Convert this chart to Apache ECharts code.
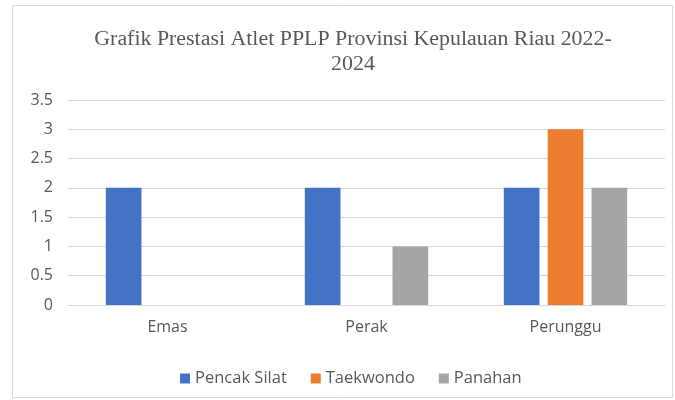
<!DOCTYPE html>
<html>
<head>
<meta charset="utf-8">
<script src="https://cdn.jsdelivr.net/npm/echarts@6/dist/echarts.min.js"></script>
<style>
  html, body { margin: 0; padding: 0; background: #fff; }
  #chart { width: 675px; height: 400px; }
</style>
</head>
<body>
<div id="chart"></div>
<script>
// data
const categories = ['Emas', 'Perak', 'Perunggu'];
const pencakSilat = [2, 2, 2];
const taekwondo = [0, 0, 3];
const panahan = [0, 1, 2];
const seriesNames = ['Pencak Silat', 'Taekwondo', 'Panahan'];
const colors = ['#4472C4', '#ED7D31', '#A5A5A5'];

const chart = echarts.init(document.getElementById('chart'));

const labelFont = { fontFamily: 'Open Sans, Noto Sans, sans-serif', fontSize: 16, color: '#595959' };

chart.setOption({
  animation: false,
  color: colors,
  title: {
    text: 'Grafik Prestasi Atlet PPLP Provinsi Kepulauan Riau 2022-\n2024',
    left: 348,
    textAlign: 'center',
    top: 22,
    textStyle: {
      fontFamily: 'Liberation Serif, serif',
      fontSize: 21.9,
      fontWeight: 'normal',
      color: '#595959',
      lineHeight: 25
    }
  },
  graphic: [{
    type: 'rect',
    shape: { x: 12.5, y: 5.5, width: 660, height: 392 },
    style: { fill: 'none', stroke: '#d9d9d9', lineWidth: 1 },
    silent: true
  }],
  legend: {
    top: 365,
    left: 175,
    itemWidth: 10,
    itemHeight: 10,
    itemGap: 24,
    icon: 'rect',
    textStyle: Object.assign({}, labelFont, { fontSize: 16.5 }),
    data: seriesNames
  },
  grid: { left: 68, right: 10, top: 100, bottom: 95 },
  xAxis: {
    type: 'category',
    data: categories,
    axisLine: { show: true, lineStyle: { color: '#d9d9d9' } },
    axisTick: { show: false },
    axisLabel: Object.assign({ margin: 14 }, labelFont)
  },
  yAxis: {
    type: 'value',
    min: 0,
    max: 3.5,
    interval: 0.5,
    axisLine: { show: false },
    axisTick: { show: false },
    splitLine: { lineStyle: { color: '#d9d9d9' } },
    axisLabel: Object.assign({ margin: 15 }, labelFont)
  },
  series: [
    { name: seriesNames[0], type: 'bar', data: pencakSilat, barGap: '23%', barCategoryGap: '38%' },
    { name: seriesNames[1], type: 'bar', data: taekwondo },
    { name: seriesNames[2], type: 'bar', data: panahan }
  ]
});
</script>
</body>
</html>
